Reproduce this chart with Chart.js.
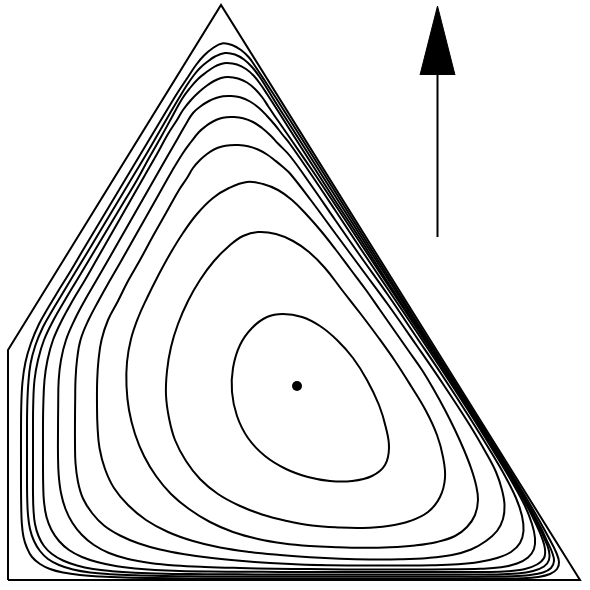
<!DOCTYPE html>
<html>
<head>
<meta charset="utf-8">
<script src="https://cdn.jsdelivr.net/npm/chart.js@4/dist/chart.umd.min.js"></script>
<style>
  html, body { margin: 0; padding: 0; background: #fff; }
  #chart { display: block; }
</style>
</head>
<body>
<canvas id="chart" width="590" height="590"></canvas>
<script>
// region outline (pixel-like coordinates, y grows downward)
const boundary = [[8,580],[8,350],[221,5],[580,580],[8,580]];

// level curves, outermost first, clockwise from the top
const contour1 = [[222,43.5],[232,45],[241,50],[249,57.5],[255,66],[264.3,80],[277.3,100],[302.6,140],[327.8,180],[352.9,220],[378,260],[403.1,300],[428.1,340],[453.3,380],[478.4,420],[503.3,460],[524.5,495],[539,520],[550,540],[556,552],[559,562],[557,569],[550,574],[538,577],[522,578.3],[500,578.5],[470,578.5],[430,578.5],[390,578.5],[350,578.5],[310,578.5],[270,578.5],[230,578.5],[190,578.4],[155,578.1],[125,577.5],[100,576.5],[80,575],[63,572.5],[50,569],[40,564],[32,557],[27,548],[23.5,537],[21.8,523],[21.2,505],[21,485],[21,460],[21,435],[21.3,405],[22.5,382],[25.5,362],[31,343],[39,324],[48,308],[57,293],[70,272],[83,250],[95,230],[107,210],[119,190],[131,170],[143,150],[155,130],[167,110],[178,92],[188,77],[196,65],[204,55.5],[213,48]];
const contour2 = [[225,53],[235,54.5],[244,59.5],[252,67],[259,76],[265.5,86],[277.2,105],[290,125],[312.3,160],[337.7,200],[363.2,240],[388.7,280],[414.2,320],[439.6,360],[465,400],[489.8,440],[511,475],[528.5,505],[541,528],[547,541],[552,552],[554,561],[551,568],[543,572.5],[530,575],[512,576.3],[490,576.6],[460,576.6],[420,576.6],[380,576.6],[340,576.6],[300,576.6],[260,576.6],[220,576.5],[190,576.3],[165,576],[135,575.3],[110,574.2],[90,572.5],[73,569.5],[59,565],[48,559],[40,551],[34,541],[30,529],[28,515],[27.2,498],[27,478],[27,455],[27,430],[27.2,408],[28.2,385],[30.5,364],[35.5,345],[43,327],[52,311],[61,296],[73,276],[87,253],[99,233],[111,213],[123,193],[135,173],[147,153],[158,134],[169,115],[179,98],[187,85],[194,75],[200,68],[207,62],[215,56.5]];
const contour3 = [[227,63],[237,64.5],[246,69],[254,76],[261,85],[267,94],[278,111],[290,130],[313,166],[336,202],[361.5,241],[387,281],[412.5,320],[438.3,360],[464,400],[489,440],[512.3,478],[527.5,505],[538.5,526],[545,540],[549,551],[549,560],[544,566.5],[533,571],[517,573.5],[495,574.5],[465,574.5],[430,574.5],[395,574.5],[360,574.5],[325,574.5],[290,574.5],[255,574.4],[220,574.3],[190,574],[165,573.7],[135,572.7],[112,571.2],[93,569],[77,565.5],[63,560.5],[52,554],[44,546],[38.5,536],[35,524],[33.5,510],[33,493],[33,472],[33,450],[33,428],[33.2,405],[34.5,380],[38,360],[44,340],[53.5,320],[65,300],[77,280],[89,260],[101,240],[113,220],[125,200],[137,180],[149,158],[161,137],[172,117],[182,99],[190,88],[198,79],[206,72.5],[214,67],[221,64]];
const contour4 = [[228,77],[238,78.5],[247,82.5],[255,89],[262,97],[268,106],[274,115],[281,125],[290,138],[312,170],[336,206],[361.7,245],[388,285],[414.5,325],[440.5,365],[466.2,405],[491.2,445],[512,479],[526,504],[536,524],[542,538],[545,549],[544,558],[537,564.5],[525,569],[508,571.3],[485,572],[455,572],[420,572],[385,572],[350,572],[315,572],[280,571.9],[245,571.7],[210,571.5],[180,571],[155,570],[135,568.5],[117,566.3],[98,562.3],[82,557],[69,550],[59,541],[51.5,530],[46.5,517],[44,502],[43.2,485],[43,465],[43,445],[43,425],[43.3,405],[44.5,380],[47.5,360],[53,340],[62,320],[73,300],[85,280],[97,259],[109,238],[121,217],[133,196],[145,175],[157,154],[168,134],[177,120],[183,110],[191,100],[199,92],[207,85.5],[214,81],[221,78]];
const contour5 = [[230,96],[240,97.3],[250,101.5],[259,108],[267,116],[275,125],[282,134],[290,144],[311.5,175],[335,210],[361.5,250],[388.5,290],[415.5,330],[442,370],[468,410],[492.8,450],[512,482],[525,506],[532,524],[535,538],[534,549],[528,557.5],[517,563.5],[501,567.3],[480,568.8],[450,569.3],[415,569.5],[380,569.5],[345,569.4],[310,569.1],[275,568.7],[240,568],[205,567],[175,565.5],[150,563],[128,559],[109,553],[94,545],[82,535],[72.5,523],[65.5,509],[61,493],[58.7,475],[58,455],[58,432],[58.2,405],[58.7,380],[61,360],[66,340],[74.5,320],[85,300],[96,281],[107,262],[119,241],[131,220],[143,199],[155,178],[167,157],[178,138],[186,124],[193,113],[201,106],[209,101],[216,98],[223,96.3]];
const contour6 = [[233,117],[243,118.3],[253,122],[262,128],[270,135],[278,143.5],[290,156],[311,185],[335.2,220],[359.6,255],[388,295],[415,335],[442,375],[468,415],[489.8,450],[505,476],[516,498],[522,516],[523.5,531],[520,543],[511,552],[497,558],[479,562],[458,564.2],[432,565.2],[400,565.5],[365,565.5],[330,565.2],[300,564.5],[270,563],[240,560.8],[210,557.8],[183,554],[160,549.5],[139,543.5],[120,535.5],[104,525.5],[92,513],[83,498.5],[78,482],[75.5,463],[75,442],[75,420],[75.2,398],[75.5,380],[77,360],[80.5,340],[88.5,320],[99,300],[109,282],[120,263],[133,240],[146,217],[159,194],[172,171],[183,153],[191,142],[199,132],[206,126],[213,121.5],[220,118.5],[226.5,117.2]];
const contour7 = [[238,145],[248,146.2],[258,149.5],[267,154.5],[275,160.5],[283,167],[290,173.5],[310.7,200],[336.5,235],[362.4,270],[388.3,305],[416.3,345],[443.7,385],[469.7,425],[485,451],[496,472],[502,490],[504.5,505],[503,519],[497,531],[486,541],[471,549.5],[452,555],[428,558],[400,559.3],[370,559.5],[340,558.8],[310,557.3],[280,555],[250,552],[220,547.5],[193,541],[168,532],[146,520],[128,505],[114,488],[105,469],[99.5,448],[97.5,426],[97,404],[97.2,380],[98.5,360],[101.5,340],[108,320],[118,301],[128,281],[140,260],[153,236],[166,213],[179,190],[187,178],[193,168],[200,160],[207,154],[214,149.5],[222,146.5],[230,145.2]];
const contour8 = [[247,182],[263,184],[278,190],[292,200],[306,214],[321,231],[336,250],[351,270],[366,290],[380,310],[394,330],[408,350],[422,370],[434,390],[445,410],[455,430],[464,450],[471,468],[476,485],[478,500],[475,515],[467,527],[455,536],[437,542],[415,545.5],[390,547.3],[363,547.8],[336,547.2],[310,546],[284,543.5],[258,539],[233,532],[210,522],[189,509],[171,494],[156,476],[144,456],[135,434],[129,410],[126.5,386],[127,362],[131,339],[138,318],[147,298],[158,276],[170,254],[183,233],[197,214],[213,198],[229,188]];
const contour9 = [[258,232],[276,234],[293,241],[309,252],[325,268],[342,290],[360,313],[378,337],[395,361],[411,386],[426,411],[437,435],[443,457],[445,478],[440,497],[428,512],[410,521],[388,526],[363,528],[338,527.5],[312,525.5],[287,521],[262,514.5],[239,505.5],[218,494],[200,479],[186,461],[175,440],[169,418],[166,395],[167,371],[171,347],[178,324],[188,301],[200,280],[214,261],[229,246],[243,236]];
const contour10 = [[283,314],[302,317],[320,326],[337,340],[353,358],[367,380],[379,405],[386,428],[389,448],[385,465],[372,476],[352,481],[330,481],[308,477],[286,469],[265,456],[248,438],[237,416],[232,392],[233,368],[240,345],[252,328],[267,317]];

const contours = [contour1, contour2, contour3, contour4, contour5, contour6, contour7, contour8, contour9, contour10];

// centre point and arrow
const centerDot = [[297,386]];
const arrowShaft = [[437.5,74],[437.5,237]];
const arrowHead = [[420,75],[437.5,6],[455,75]];

const toXY = pts => pts.map(p => ({ x: p[0], y: p[1] }));

// make a dataset draw as a smooth closed curve (same trick the radar chart uses)
const closeLoops = {
    id: 'closeLoops',
    afterDatasetUpdate(chart, args) {
        const ds = chart.data.datasets[args.index];
        if (ds.loop && args.meta.dataset) {
            args.meta.dataset._loop = true;
            args.meta.dataset._fullLoop = true;
        }
    }
};

const datasets = [];

datasets.push({
    data: toXY(boundary),
    borderColor: '#000',
    borderWidth: 2,
    tension: 0,
    pointRadius: 0
});

contours.forEach(c => {
    datasets.push({
        data: toXY(c),
        loop: true,
        borderColor: '#000',
        borderWidth: 2,
        tension: 0.4,
        pointRadius: 0
    });
});

datasets.push({
    data: toXY(arrowShaft),
    borderColor: '#000',
    borderWidth: 2,
    pointRadius: 0
});

datasets.push({
    data: toXY(arrowHead),
    borderColor: '#000',
    borderWidth: 1,
    backgroundColor: '#000',
    fill: { target: { value: 75 } },
    tension: 0,
    pointRadius: 0
});

datasets.push({
    data: toXY(centerDot),
    showLine: false,
    pointRadius: 5,
    pointBackgroundColor: '#000',
    pointBorderWidth: 0
});

new Chart(document.getElementById('chart'), {
    type: 'line',
    data: { datasets },
    options: {
        responsive: false,
        animation: false,
        layout: { padding: 0, autoPadding: false },
        plugins: {
            legend: { display: false },
            tooltip: { enabled: false }
        },
        scales: {
            x: { type: 'linear', min: 0, max: 590, display: false },
            y: { type: 'linear', min: 0, max: 590, reverse: true, display: false }
        }
    },
    plugins: [closeLoops]
});
</script>
</body>
</html>
